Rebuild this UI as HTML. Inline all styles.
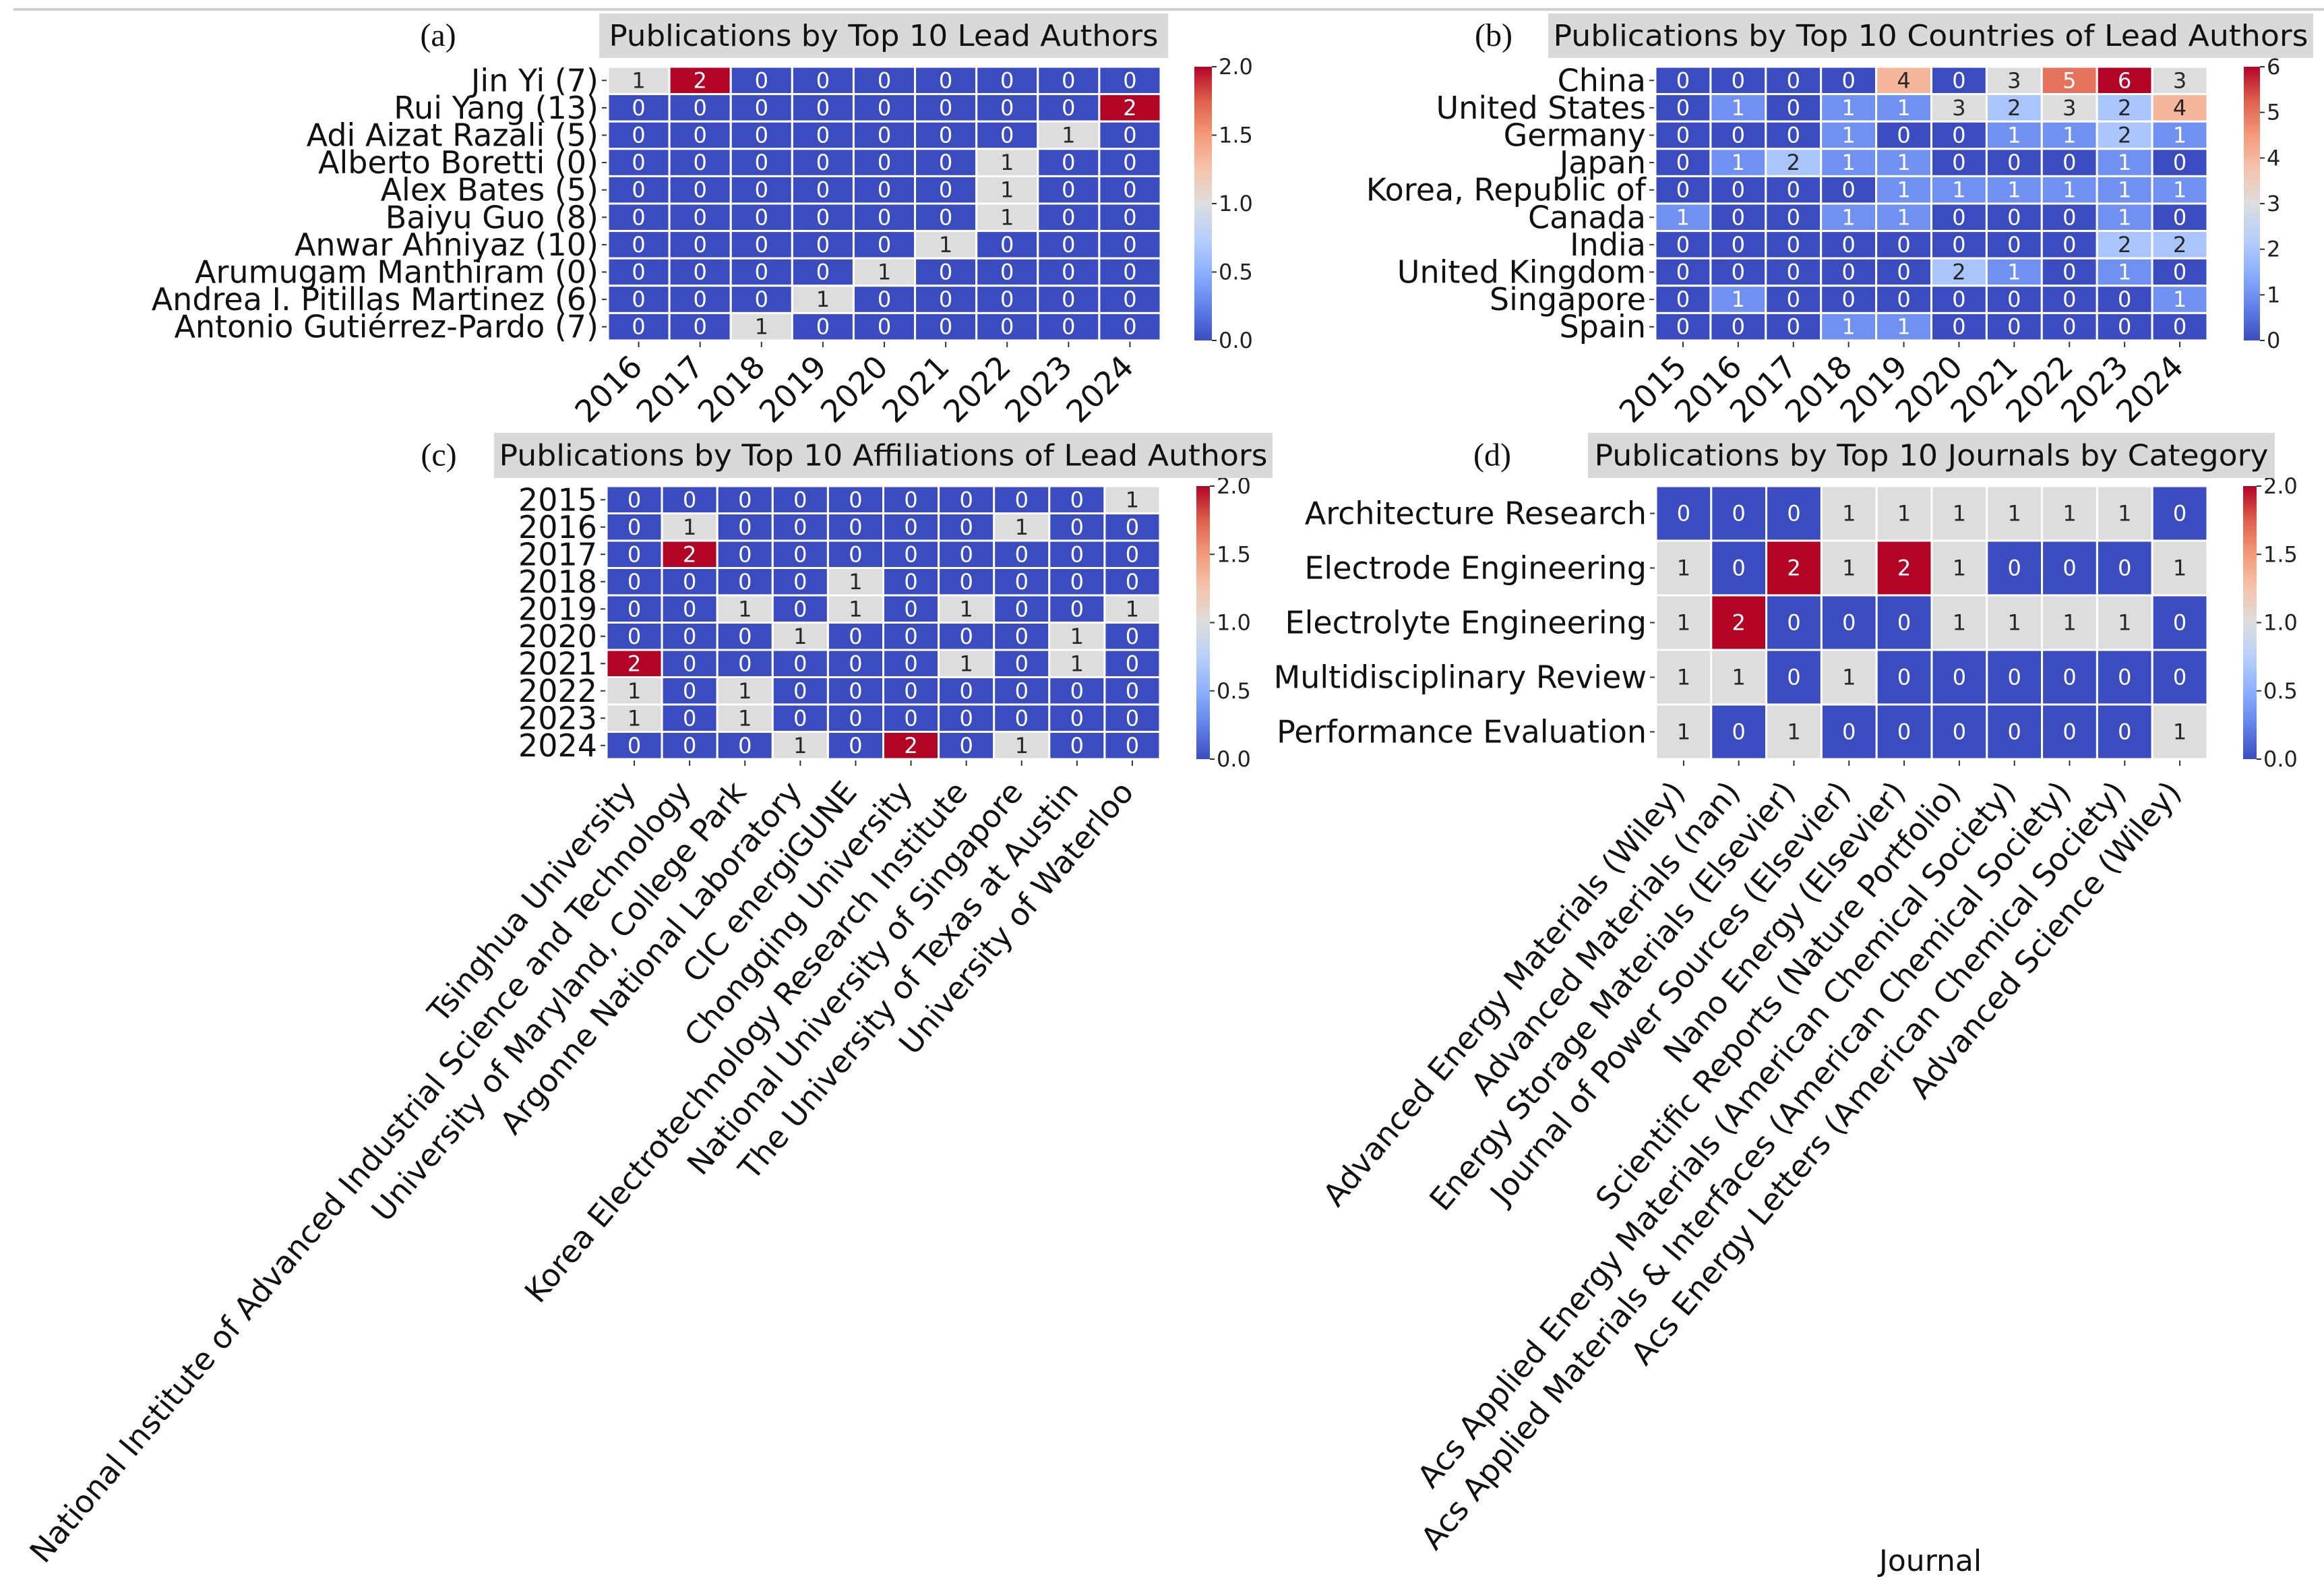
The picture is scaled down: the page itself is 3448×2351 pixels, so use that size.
<!DOCTYPE html>
<html><head><meta charset="utf-8">
<style>
html,body{margin:0;padding:0;background:#fff;}
svg{display:block;}
text{font-family:"DejaVu Sans","Liberation Sans",sans-serif;}
text.serif{font-family:"Liberation Serif",serif;}
</style></head>
<body>
<svg id="fig" xmlns="http://www.w3.org/2000/svg" width="3448" height="2351" viewBox="0 0 3448 2351">
<defs>
<linearGradient id="cw" x1="0" y1="1" x2="0" y2="0">
<stop offset="0" stop-color="#3b4cc0"/><stop offset="0.125" stop-color="#6282ea"/>
<stop offset="0.25" stop-color="#8db0fe"/><stop offset="0.375" stop-color="#b8d0f9"/>
<stop offset="0.5" stop-color="#dddddd"/><stop offset="0.625" stop-color="#f5c4ad"/>
<stop offset="0.75" stop-color="#f49a7b"/><stop offset="0.875" stop-color="#de604d"/>
<stop offset="1" stop-color="#b40426"/></linearGradient>
</defs>
<rect x="20" y="12" width="3428" height="4" fill="#d0d0d0"/>
</svg>
<script>
// ---- data ----
const yearsA = ["2016","2017","2018","2019","2020","2021","2022","2023","2024"];
const authors = ["Jin Yi (7)","Rui Yang (13)","Adi Aizat Razali (5)","Alberto Boretti (0)","Alex Bates (5)","Baiyu Guo (8)","Anwar Ahniyaz (10)","Arumugam Manthiram (0)","Andrea I. Pitillas Martinez (6)","Antonio Gutiérrez-Pardo (7)"];
const valuesA = [
[1,2,0,0,0,0,0,0,0],[0,0,0,0,0,0,0,0,2],[0,0,0,0,0,0,0,1,0],[0,0,0,0,0,0,1,0,0],[0,0,0,0,0,0,1,0,0],
[0,0,0,0,0,0,1,0,0],[0,0,0,0,0,1,0,0,0],[0,0,0,0,1,0,0,0,0],[0,0,0,1,0,0,0,0,0],[0,0,1,0,0,0,0,0,0]];
const yearsB = ["2015","2016","2017","2018","2019","2020","2021","2022","2023","2024"];
const countries = ["China","United States","Germany","Japan","Korea, Republic of","Canada","India","United Kingdom","Singapore","Spain"];
const valuesB = [
[0,0,0,0,4,0,3,5,6,3],[0,1,0,1,1,3,2,3,2,4],[0,0,0,1,0,0,1,1,2,1],[0,1,2,1,1,0,0,0,1,0],[0,0,0,0,1,1,1,1,1,1],
[1,0,0,1,1,0,0,0,1,0],[0,0,0,0,0,0,0,0,2,2],[0,0,0,0,0,2,1,0,1,0],[0,1,0,0,0,0,0,0,0,1],[0,0,0,1,1,0,0,0,0,0]];
const yearsC = ["2015","2016","2017","2018","2019","2020","2021","2022","2023","2024"];
const affiliations = ["Tsinghua University","National Institute of Advanced Industrial Science and Technology","University of Maryland, College Park","Argonne National Laboratory","CIC energiGUNE","Chongqing University","Korea Electrotechnology Research Institute","National University of Singapore","The University of Texas at Austin","University of Waterloo"];
const valuesC = [
[0,0,0,0,0,0,0,0,0,1],[0,1,0,0,0,0,0,1,0,0],[0,2,0,0,0,0,0,0,0,0],[0,0,0,0,1,0,0,0,0,0],[0,0,1,0,1,0,1,0,0,1],
[0,0,0,1,0,0,0,0,1,0],[2,0,0,0,0,0,1,0,1,0],[1,0,1,0,0,0,0,0,0,0],[1,0,1,0,0,0,0,0,0,0],[0,0,0,1,0,2,0,1,0,0]];
const categories = ["Architecture Research","Electrode Engineering","Electrolyte Engineering","Multidisciplinary Review","Performance Evaluation"];
const journals = ["Advanced Energy Materials (Wiley)","Advanced Materials (nan)","Energy Storage Materials (Elsevier)","Journal of Power Sources (Elsevier)","Nano Energy (Elsevier)","Scientific Reports (Nature Portfolio)","Acs Applied Energy Materials (American Chemical Society)","Acs Applied Materials & Interfaces (American Chemical Society)","Acs Energy Letters (American Chemical Society)","Advanced Science (Wiley)"];
const valuesD = [
[0,0,0,1,1,1,1,1,1,0],[1,0,2,1,2,1,0,0,0,1],[1,2,0,0,0,1,1,1,1,0],[1,1,0,1,0,0,0,0,0,0],[1,0,1,0,0,0,0,0,0,1]];
const ticksAC = ["0.0","0.5","1.0","1.5","2.0"];
const ticksB = ["0","1","2","3","4","5","6"];

const NS="http://www.w3.org/2000/svg";
const svg=document.getElementById('fig');
function mk(tag,attrs,parent){const e=document.createElementNS(NS,tag);for(const k in attrs)e.setAttribute(k,attrs[k]);(parent||svg).appendChild(e);return e;}
const stops=[[59,76,192],[98,130,234],[141,176,254],[184,208,249],[221,221,221],[245,196,173],[244,154,123],[222,96,77],[180,4,38]];
function cw(t){t=Math.max(0,Math.min(1,t));const p=t*8,i=Math.min(7,Math.floor(p)),f=p-i;const a=stops[i],b=stops[i+1];
 return a.map((v,k)=>Math.round(v+(b[k]-v)*f));}
function lum(c){const l=c.map(v=>{v/=255;return v<=0.03928?v/12.92:Math.pow((v+0.055)/1.055,2.4);});return 0.2126*l[0]+0.7152*l[1]+0.0722*l[2];}

function heatmap(o){
 const g=mk('g',{});
 
 
 const nr=o.vals.length,nc=o.vals[0].length,cwid=(o.x1-o.x0)/nc,ch=(o.y1-o.y0)/nr;
 const xs=j=>o.x0+cwid*(j+0.5), ys=i=>o.y0+ch*(i+0.5);
 for(let i=0;i<nr;i++)for(let j=0;j<nc;j++){
  const v=o.vals[i][j],c=cw(v/o.vmax);
  const r=mk('rect',{x:o.x0+cwid*j,y:o.y0+ch*i,width:cwid,height:ch,fill:`rgb(${c})`,stroke:'#fff','stroke-width':3},g);
  
  
  const t=mk('text',{x:xs(j),y:ys(i)+11,'text-anchor':'middle','font-size':32,fill:lum(c)>0.408?'#262626':'#ffffff'},g);
  t.textContent=v;
  
  
 }
 o.rows.forEach((lab,i)=>{
  mk('line',{x1:o.x0-9,x2:o.x0-2,y1:ys(i),y2:ys(i),stroke:'#333','stroke-width':2},g);
  const t=mk('text',{x:o.x0-14,y:ys(i)+16,'text-anchor':'end','font-size':o.yfs||46,fill:'#111'},g);
  t.textContent=lab;
  
  
 });
 o.cols.forEach((lab,j)=>{
  mk('line',{x1:xs(j),x2:xs(j),y1:o.y1+2,y2:o.y1+10,stroke:'#333','stroke-width':2},g);
  const ax=xs(j)+o.xdx, ay=o.y1+o.xdy;
  const t=mk('text',{x:0,y:0,'text-anchor':'end','font-size':o.xfs||46,fill:'#111',transform:`translate(${ax},${ay}) rotate(${-o.rot})`},g);
  t.textContent=lab;
  
  
 });
 const cb=mk('rect',{x:o.cbx,y:o.y0,width:o.cbw,height:o.y1-o.y0,fill:'url(#cw)'},g);
 
 
 o.cbt.forEach((lab)=>{
  const y=o.y1-(parseFloat(lab)/o.vmax)*(o.y1-o.y0);
  mk('line',{x1:o.cbx+o.cbw,x2:o.cbx+o.cbw+7,y1:y,y2:y,stroke:'#333','stroke-width':2},g);
  const t=mk('text',{x:o.cbx+o.cbw+10,y:y+11,'font-size':32,fill:'#222'},g);
  t.textContent=lab;
  
  
 });
 const tb=mk('rect',{x:o.tx0,y:o.ty0,width:o.tx1-o.tx0,height:o.ty1-o.ty0,fill:'#d9d9d9'},g);
 
 
 const tt=mk('text',{x:(o.tx0+o.tx1)/2,y:(o.ty0+o.ty1)/2+15,'text-anchor':'middle','font-size':44,fill:'#111',textLength:o.tlen,lengthAdjust:'spacingAndGlyphs'},g);
 tt.textContent=o.title;
 
 
 const pl=mk('text',{x:o.px,y:(o.ty0+o.ty1)/2+15,'text-anchor':'middle','font-size':48,fill:'#111','class':'serif'},g);
 pl.textContent=o.letter;
 
 
}

heatmap({name:'heatmap-lead-authors',vals:valuesA,rows:authors,cols:yearsA,vmax:2,x0:902,x1:1722,y0:99,y1:505,
 rot:45,xdx:8,xdy:42,cbx:1772,cbw:26,cbt:ticksAC,tx0:889,tx1:1733,ty0:20,ty1:86,tlen:815,title:'Publications by Top 10 Lead Authors',px:650,letter:'(a)'});
heatmap({name:'heatmap-countries',vals:valuesB,rows:countries,cols:yearsB,vmax:6,x0:2456,x1:3275,y0:99,y1:505,
 rot:45,xdx:8,xdy:42,cbx:3329,cbw:24,cbt:ticksB,tx0:2297,tx1:3432,ty0:20,ty1:86,tlen:1120,title:'Publications by Top 10 Countries of Lead Authors',px:2216,letter:'(b)'});
heatmap({name:'heatmap-affiliations',vals:valuesC,rows:yearsC,cols:affiliations,vmax:2,x0:900,x1:1721,y0:721,y1:1126,
 rot:50,xdx:4,xdy:50,xfs:46,cbx:1775,cbw:20,cbt:ticksAC,tx0:733,tx1:1888,ty0:642,ty1:709,tlen:1140,title:'Publications by Top 10 Affiliations of Lead Authors',px:651,letter:'(c)'});
heatmap({name:'heatmap-journals',vals:valuesD,rows:categories,cols:journals,vmax:2,x0:2457,x1:3275,y0:721,y1:1126,
 rot:50,xdx:4,xdy:50,xfs:46,cbx:3328,cbw:20,cbt:ticksAC,tx0:2356,tx1:3375,ty0:642,ty1:709,tlen:1000,title:'Publications by Top 10 Journals by Category',px:2214,letter:'(d)'});

const jl=mk('text',{x:2864,y:2330,'text-anchor':'middle','font-size':44,fill:'#111'});
jl.textContent='Journal';


</script>
</body></html>
